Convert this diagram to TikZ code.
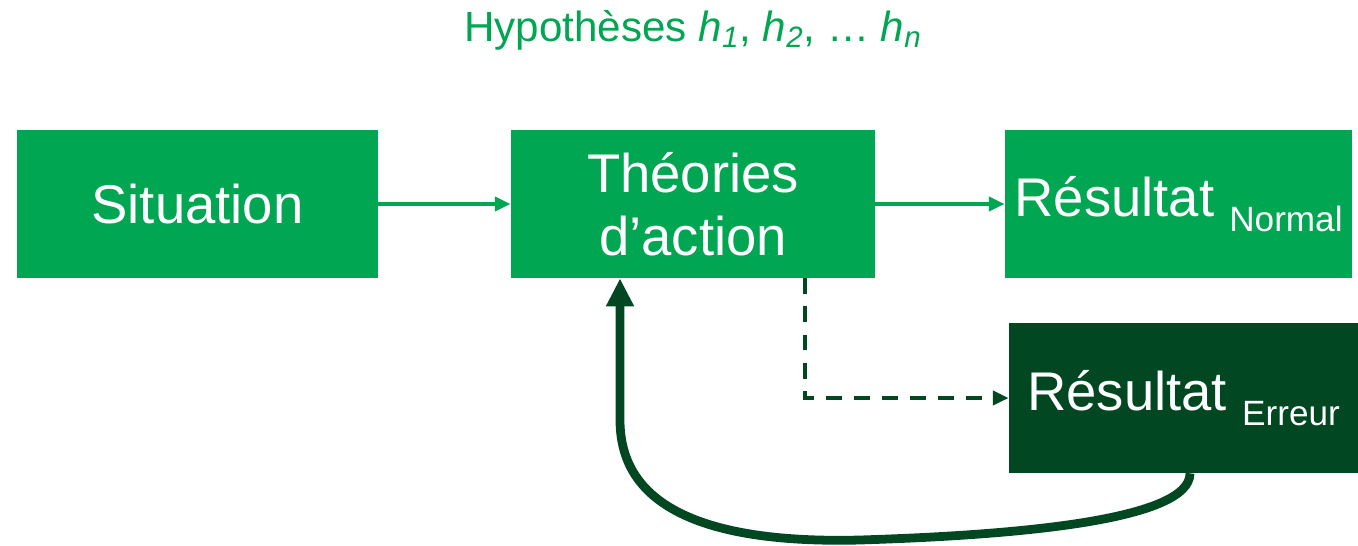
\documentclass[tikz,border=0pt]{standalone}
\usepackage{fontspec}
\setmainfont{Liberation Sans}
\usetikzlibrary{arrows.meta}
\definecolor{vert}{RGB}{0,166,81}
\definecolor{vertfonce}{RGB}{0,71,34}
\newcommand{\indice}[1]{\raisebox{-0.5ex}{\fontsize{20}{22}\selectfont #1}}

\begin{document}
\begin{tikzpicture}[x=0.02cm, y=-0.02cm,
		every node/.style={font=\fontsize{31}{36}\selectfont, text=white},
		boite/.style={fill=vert, minimum height=148*0.02cm, inner sep=0pt},
		fleche/.style={vert, line width=2.2pt, -{Triangle[length=9pt, width=8pt]}}]
		\useasboundingbox (0,0) rectangle (1358,545);
		\node (hyp) at (693,30) {\color{vert}\fontsize{24}{28}\selectfont Hypothèses \textit{h}\textsubscript{\textit{1}}, \textit{h}\textsubscript{\textit{2}}, … \textit{h}\textsubscript{\textit{n}}};
		\node[boite, minimum width=361*0.02cm] (sit) at (197.5,204) {Situation};
		\node[boite, minimum width=364*0.02cm, align=center] (theo) at (693,204) {Théories\\d’action};
		\node[boite, minimum width=347*0.02cm] (norm) at (1178.5,204) {Résultat \indice{Normal}};
		\node[boite, fill=vertfonce, minimum width=349*0.02cm, minimum height=150*0.02cm] (err) at (1183.5,398) {Résultat \indice{Erreur}};
		\coordinate (coin) at (805,398);
		\draw[fleche] (sit) -- (theo);
		\draw[fleche] (theo) -- (norm);
		\draw[vertfonce, line width=2.2pt, dashed, dash pattern=on 9pt off 7pt, -{Triangle[length=9pt, width=8pt]}] (theo.south -| coin) -- (coin) -- (err);
		\draw[vertfonce, line width=5pt, -{Triangle[length=16pt, width=15pt]}] (err.south -| 1190,0) .. controls (1190,520) and (1020,535) .. (860,540) .. controls (660,545) and (620,480) .. (620,420) -- (theo.south -| 620,0);
	\end{tikzpicture}
\end{document}
